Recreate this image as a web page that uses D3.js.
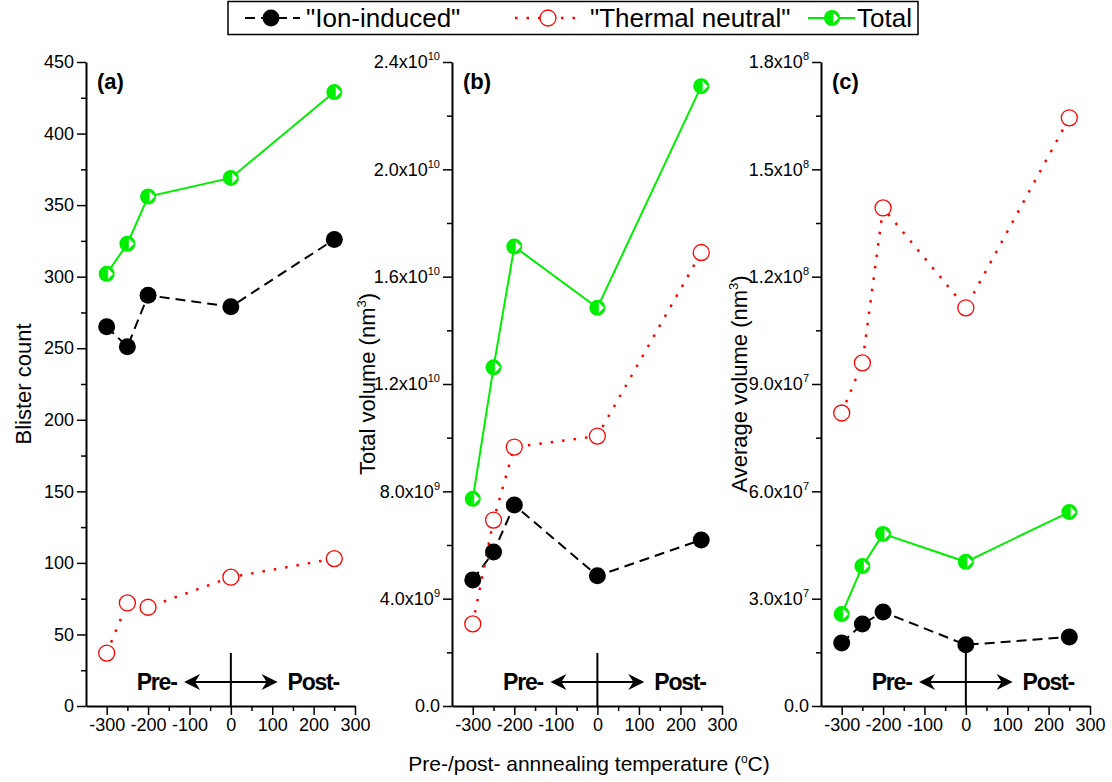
<!DOCTYPE html>
<html>
<head>
<meta charset="utf-8">
<script src="https://cdn.jsdelivr.net/npm/d3@7"></script>
<style>
  body { margin: 0; background: #fff; }
  svg { display: block; font-family: Arial, "Liberation Sans", sans-serif; }
</style>
</head>
<body>
<svg id="chart" width="1112" height="782"></svg>
<script>
// temperatures (x)
const temps = [-300, -250, -200, 0, 250];

// (a) blister count
const countIon = [265, 251, 287, 279, 326];
const countThermal = [37, 72, 69, 90, 103];
const countTotal = [302, 323, 356, 369, 429];

// (b) total volume (nm^3)
const volIon = [4.70e9, 5.74e9, 7.49e9, 4.85e9, 6.19e9];
const volThermal = [3.06e9, 6.93e9, 9.65e9, 10.06e9, 16.9e9];
const volTotal = [7.72e9, 12.62e9, 17.12e9, 14.84e9, 23.1e9];

// (c) average volume (nm^3)
const avgIon = [1.76e7, 2.29e7, 2.63e7, 1.71e7, 1.93e7];
const avgThermal = [8.19e7, 9.59e7, 13.92e7, 11.13e7, 16.44e7];
const avgTotal = [2.57e7, 3.91e7, 4.81e7, 4.03e7, 5.42e7];

const xTicks = [-300, -200, -100, 0, 100, 200, 300];
const legendLabels = ['"Ion-induced"', '"Thermal neutral"', "Total"];

const svg = d3.select("#chart");
const yTop = 62, yBottom = 706;
const green = "#00ee00", red = "#ff0000";

const panels = [
  { left: 86, right: 355, tag: "(a)", ymax: 450, step: 50, sci: false,
    label: "Blister count", labelX: 31,
    series: [countIon, countThermal, countTotal] },
  { left: 452, right: 722, tag: "(b)", ymax: 2.4e10, step: 4e9, sci: true,
    label: "Total volume (nm", labelX: 375,
    series: [volIon, volThermal, volTotal] },
  { left: 821, right: 1090, tag: "(c)", ymax: 1.8e8, step: 3e7, sci: true,
    label: "Average volume (nm", labelX: 747,
    series: [avgIon, avgThermal, avgTotal] }
];

const styles = [
  { color: "#000", dash: "10,6", width: 2 },
  { color: red, dash: "2.5,9", width: 2.5 },
  { color: green, dash: null, width: 2 }
];

function marker(g, kind, cx, cy) {
  const m = g.append("g").attr("transform", `translate(${cx},${cy})`);
  if (kind === 0) {
    m.append("circle").attr("r", 8.5).attr("fill", "#000");
  } else if (kind === 1) {
    m.append("circle").attr("r", 8).attr("fill", "#fff").attr("stroke", red).attr("stroke-width", 1.3);
  } else {
    m.append("circle").attr("r", 8).attr("fill", green);
    m.append("path").attr("d", "M1,-6L7,0L1,6Z").attr("fill", "#fff")
      .attr("stroke", green).attr("stroke-width", 0.8);
  }
}

function sciLabel(sel, v) {
  sel.text(null);
  if (v === 0) { sel.text("0.0"); return; }
  const e = Math.floor(Math.log10(v) + 1e-9);
  const m = (v / Math.pow(10, e)).toFixed(1);
  sel.append("tspan").text(m + "x10");
  sel.append("tspan").attr("dy", -8).attr("font-size", 11).text(e);
}

panels.forEach((p) => {
  const x = d3.scaleLinear().domain([-350, 300]).range([p.left, p.right]);
  const y = d3.scaleLinear().domain([0, p.ymax]).range([yBottom, yTop]);
  const g = svg.append("g");

  // minor ticks
  const yMinor = d3.range(p.step / 2, p.ymax, p.step);
  g.append("g").attr("transform", `translate(${p.left},0)`)
    .call(d3.axisLeft(y).tickValues(yMinor).tickSize(5).tickFormat(""))
    .call((s) => s.select(".domain").remove())
    .selectAll("line").attr("stroke-width", 1.5);
  const xMinor = d3.range(-350, 300, 100).filter((v) => v > -350);
  g.append("g").attr("transform", `translate(0,${yBottom})`)
    .call(d3.axisBottom(x).tickValues(xMinor).tickSize(5).tickFormat(""))
    .call((s) => s.select(".domain").remove())
    .selectAll("line").attr("stroke-width", 1.5);

  // major axes
  const yMajor = d3.range(0, p.ymax + p.step / 2, p.step);
  const ya = g.append("g").attr("transform", `translate(${p.left},0)`)
    .call(d3.axisLeft(y).tickValues(yMajor).tickSize(9).tickSizeOuter(0).tickPadding(3));
  ya.selectAll("text").attr("font-size", 18).attr("fill", "#000");
  if (p.sci) ya.selectAll("text").each(function (d) { sciLabel(d3.select(this), d); });
  const xa = g.append("g").attr("transform", `translate(0,${yBottom})`)
    .call(d3.axisBottom(x).tickValues(xTicks).tickSize(9).tickSizeOuter(0).tickPadding(3));
  xa.selectAll("text").attr("font-size", 18).attr("fill", "#000")
    .text((d) => d);
  [ya, xa].forEach((a) => {
    a.select(".domain").attr("stroke-width", 2);
    a.selectAll("line").attr("stroke-width", 1.5);
  });

  // axis label
  const lab = g.append("text")
    .attr("transform", `translate(${p.labelX},${(yTop + yBottom) / 2}) rotate(-90)`)
    .attr("text-anchor", "middle").attr("font-size", 22).text(p.label);
  if (p.sci) {
    lab.append("tspan").attr("dy", -9).attr("font-size", 13).text("3");
    lab.append("tspan").attr("dy", 9).text(")");
  }

  // panel tag
  g.append("text").attr("x", p.left + 11).attr("y", 89)
    .attr("font-size", 22).attr("font-weight", "bold").text(p.tag);

  // Pre-/Post- annotation
  g.append("line").attr("x1", x(0)).attr("x2", x(0)).attr("y1", 653).attr("y2", yBottom)
    .attr("stroke", "#000").attr("stroke-width", 2);
  const ay = 682, a0 = x(-113), a1 = x(113);
  g.append("line").attr("x1", a0 + 6).attr("x2", a1 - 6).attr("y1", ay).attr("y2", ay)
    .attr("stroke", "#000").attr("stroke-width", 2);
  g.append("path").attr("d", `M${a0},${ay}L${a0 + 16},${ay - 8}L${a0 + 11},${ay}L${a0 + 16},${ay + 8}Z`);
  g.append("path").attr("d", `M${a1},${ay}L${a1 - 16},${ay - 8}L${a1 - 11},${ay}L${a1 - 16},${ay + 8}Z`);
  g.append("text").attr("x", x(-131)).attr("y", 690).attr("text-anchor", "end")
    .attr("font-size", 23).attr("font-weight", "bold").attr("letter-spacing", -1.2).text("Pre-");
  g.append("text").attr("x", x(137)).attr("y", 690)
    .attr("font-size", 23).attr("font-weight", "bold").attr("letter-spacing", -1.2).text("Post-");

  // series
  p.series.forEach((vals, k) => {
    const st = styles[k];
    const line = d3.line().x((d, i) => x(temps[i])).y((d) => y(d));
    g.append("path").datum(vals).attr("d", line).attr("fill", "none")
      .attr("stroke", st.color).attr("stroke-width", st.width)
      .attr("stroke-dasharray", st.dash);
  });
  p.series.forEach((vals, k) => {
    vals.forEach((v, i) => marker(g, k, x(temps[i]), y(v)));
  });
});

// x axis title
const xt = svg.append("text").attr("x", 589).attr("y", 771).attr("text-anchor", "middle")
  .attr("font-size", 21).text("Pre-/post- annnealing temperature (");
xt.append("tspan").attr("dy", -8).attr("font-size", 12).text("o");
xt.append("tspan").attr("dy", 8).text("C)");

// legend
const lg = svg.append("g");
lg.append("rect").attr("x", 228).attr("y", 1.5).attr("width", 690).attr("height", 33)
  .attr("fill", "#fff").attr("stroke", "#000").attr("stroke-width", 1.5);
const legItems = [
  { x1: 245, x2: 300, mx: 271, tx: 306 },
  { x1: 515, x2: 582, mx: 548, tx: 590 },
  { x1: 808, x2: 855, mx: 832, tx: 857 }
];
legItems.forEach((it, k) => {
  const st = styles[k];
  lg.append("line").attr("x1", it.x1).attr("x2", it.x2).attr("y1", 18).attr("y2", 18)
    .attr("stroke", st.color).attr("stroke-width", st.width).attr("stroke-dasharray", st.dash);
  marker(lg, k, it.mx, 18);
  lg.append("text").attr("x", it.tx).attr("y", 27).attr("font-size", 26).text(legendLabels[k]);
});
</script>
</body>
</html>
